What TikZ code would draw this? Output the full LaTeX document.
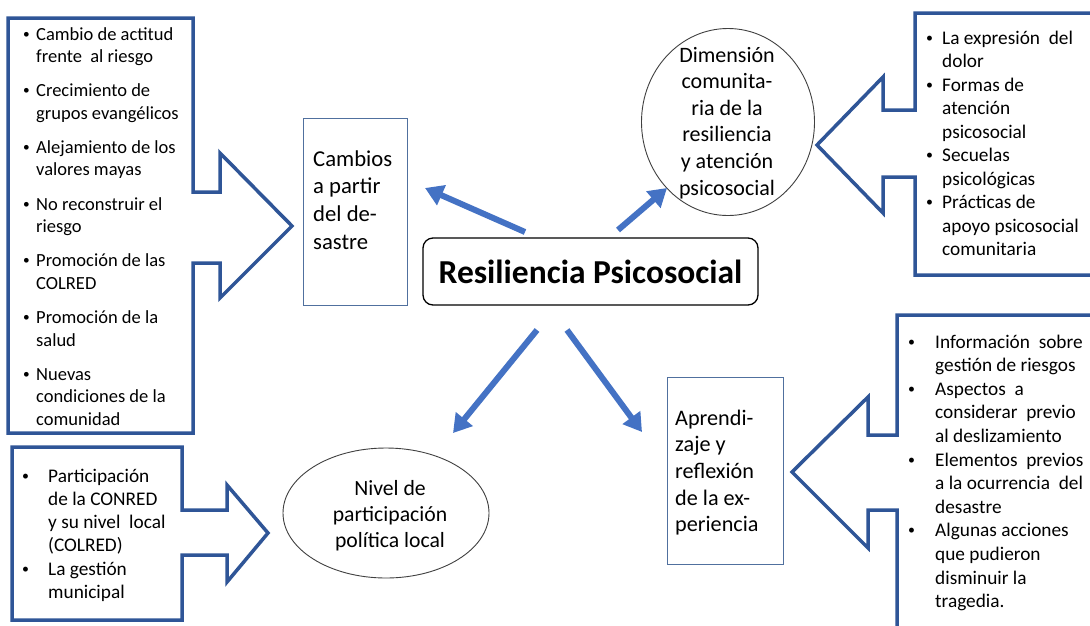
\documentclass[tikz,border=0pt]{standalone}
\usepackage{fontspec}
\usepackage{graphicx}
\setmainfont{Carlito}
\usetikzlibrary{arrows.meta,shapes.geometric}
\definecolor{calloutblue}{HTML}{2F5597}
\definecolor{arrowblue}{HTML}{4472C4}
\definecolor{boxedge}{HTML}{50709E}
\definecolor{ovaledge}{HTML}{404040}
\newcommand{\bmk}[1]{\makebox[#1][l]{\raisebox{0.1em}{\scalebox{0.72}{•}}}}
\newcommand{\bind}[1]{\hspace*{#1}}
\begin{document}
\begin{tikzpicture}[x=1pt,y=-1pt,
  callout/.style={draw=calloutblue, line width=3.5pt, line join=miter, fill=white},
  bigarrow/.style={draw=arrowblue, line width=6pt, -{Triangle[length=18pt,width=21pt]}},
  thinbox/.style={draw=boxedge, line width=1pt, rectangle, inner sep=0pt},
  oval/.style={draw=ovaledge, line width=0.9pt, ellipse, inner sep=0pt},
  listtext/.style={anchor=base west, inner sep=0pt, align=left},
  bodytext/.style={inner sep=0pt},
]
\useasboundingbox (0,0) rectangle (1090,625);
\fill[white] (0,0) rectangle (1090,625);
\clip (0,0) rectangle (1090,625);

% callout shapes
\draw[callout] (193,192) -- (193,18) -- (8,18) -- (8,433) -- (193,433) -- (193,263) -- (220,263) -- (220,298) -- (292,226) -- (220,153) -- (220,192) -- cycle;
\draw[callout] (915,110) -- (915,13) -- (1100,13) -- (1100,275) -- (915,275) -- (915,177) -- (883,177) -- (883,213) -- (817,145) -- (883,77) -- (883,110) -- cycle;
\draw[callout] (897,435) -- (897,315) -- (1100,315) -- (1100,640) -- (897,640) -- (897,510) -- (868,510) -- (868,548) -- (792,472) -- (868,397) -- (868,435) -- cycle;
\draw[callout] (182,510) -- (182,447) -- (12,447) -- (12,620) -- (182,620) -- (182,555) -- (227,555) -- (227,582) -- (268,533) -- (227,485) -- (227,510) -- cycle;

% callout texts (anchor = baseline of the last line)
\node[listtext, font=\fontsize{18.5}{22.5}\selectfont] (listcambios) at (23,425.2) {%
\bmk{13pt}Cambio de actitud\\ \bind{13pt}frente\ \ al riesgo\\[11.7pt]
\bmk{13pt}Crecimiento de\\ \bind{13pt}grupos evangélicos\\[11.7pt]
\bmk{13pt}Alejamiento de los\\ \bind{13pt}valores mayas\\[11.7pt]
\bmk{13pt}No reconstruir el\\ \bind{13pt}riesgo\\[11.7pt]
\bmk{13pt}Promoción de las\\ \bind{13pt}COLRED\\[11.7pt]
\bmk{13pt}Promoción de la\\ \bind{13pt}salud\\[11.7pt]
\bmk{13pt}Nuevas\\ \bind{13pt}condiciones de la\\ \bind{13pt}comunidad};

\node[listtext, font=\fontsize{19.3}{23.5}\selectfont] (listdimension) at (926,255.5) {%
\bmk{16pt}La expresión\ \ del\\ \bind{16pt}dolor\\
\bmk{16pt}Formas de\\ \bind{16pt}atención\\ \bind{16pt}psicosocial\\
\bmk{16pt}Secuelas\\ \bind{16pt}psicológicas\\
\bmk{16pt}Prácticas de\\ \bind{16pt}apoyo psicosocial\\ \bind{16pt}comunitaria};

\node[listtext, font=\fontsize{19.3}{23.6}\selectfont] (listaprendizaje) at (908,607.6) {%
\bmk{27pt}Información\ \ sobre\\ \bind{27pt}gestión de riesgos\\
\bmk{27pt}Aspectos\ \ a\\ \bind{27pt}considerar\ \ previo\\ \bind{27pt}al deslizamiento\\
\bmk{27pt}Elementos\ \ previos\\ \bind{27pt}a la ocurrencia\ \ del\\ \bind{27pt}desastre\\
\bmk{27pt}Algunas acciones\\ \bind{27pt}que pudieron\\ \bind{27pt}disminuir la\\ \bind{27pt}tragedia.};

\node[listtext, font=\fontsize{19.3}{23.3}\selectfont] (listnivel) at (22,598.5) {%
\bmk{26pt}Participación\\ \bind{26pt}de la CONRED\\ \bind{26pt}y su nivel\ \ local\\ \bind{26pt}(COLRED)\\
\bmk{26pt}La gestión\\ \bind{26pt}municipal};

% concept boxes
\node[thinbox, minimum width=104pt, minimum height=187pt] (cambios) at (355,211.5) {};
\node[listtext, font=\fontsize{22.7}{27.7}\selectfont] (cambiostxt) at (313,249.1) {Cambios\\a partir\\del de-\\sastre};

\node[thinbox, minimum width=116pt, minimum height=187pt] (aprend) at (725,470.5) {};
\node[listtext, font=\fontsize{22.2}{26.7}\selectfont] (aprendtxt) at (675,531.8) {Aprendi-\\zaje y\\reflexión\\de la ex-\\periencia};

\node[oval, minimum width=173pt, minimum height=187pt] (dimension) at (728,122) {};
\node[bodytext, anchor=base, align=center, font=\fontsize{22}{26.6}\selectfont] (dimtxt) at (727,195) {Dimensión\\comunita-\\ria de la\\resiliencia\\y atención\\psicosocial};

\node[oval, minimum width=206pt, minimum height=130pt] (nivel) at (386,513) {};
\node[bodytext, anchor=base, align=center, font=\fontsize{21.7}{26}\selectfont] (niveltxt) at (390,547) {Nivel de\\participación\\política local};

% central node
\node[draw=black, line width=1.3pt, rounded corners=10pt, minimum width=335pt, minimum height=67pt, inner sep=0pt,
      font=\fontsize{33.5}{40}\selectfont\bfseries] (res) at (590.5,271.5) {Resiliencia Psicosocial};

% arrows
\coordinate (a1s) at (525,232); \coordinate (a1e) at (425,188);
\coordinate (a2s) at (618,230); \coordinate (a2e) at (667,188);
\coordinate (a3s) at (537,330); \coordinate (a3e) at (453,433);
\coordinate (a4s) at (567,330); \coordinate (a4e) at (642,432);
\draw[bigarrow] (a1s) -- (a1e);
\draw[bigarrow] (a2s) -- (a2e);
\draw[bigarrow] (a3s) -- (a3e);
\draw[bigarrow] (a4s) -- (a4e);
\end{tikzpicture}
\end{document}
